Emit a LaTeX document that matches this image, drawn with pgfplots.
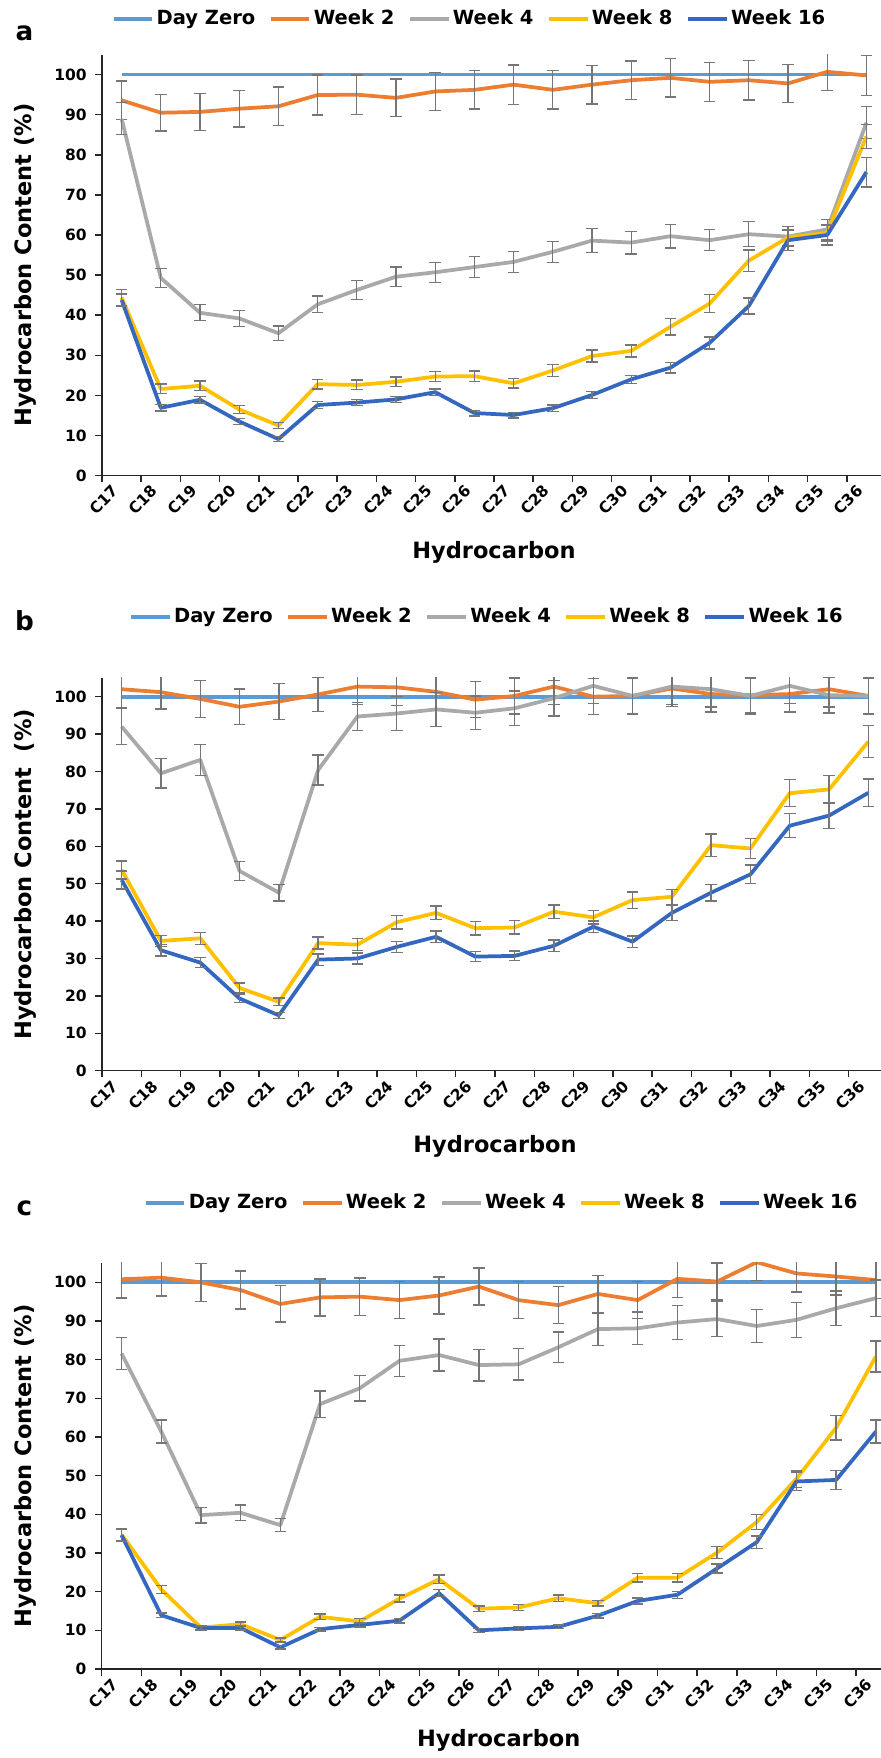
\documentclass[border=0pt]{standalone}
\usepackage{pgfplots}
\pgfplotsset{compat=1.18}
\usepackage{fontspec}
\setmainfont{DejaVu Sans}

\definecolor{dayzero}{HTML}{5B9BD5}
\definecolor{wktwo}{HTML}{ED7D31}
\definecolor{wkfour}{HTML}{A9A9A9}
\definecolor{wkeight}{HTML}{FFC000}
\definecolor{wksixteen}{HTML}{3468C0}
\definecolor{errgray}{HTML}{767676}

\newcommand{\tickfont}{\bfseries\fontsize{6.2}{7}\selectfont}
\newcommand{\legfont}{\bfseries\fontsize{7.8}{9}\selectfont}
\newcommand{\labfont}{\bfseries\fontsize{9}{10}\selectfont}

\pgfplotsset{
  panel/.style={
    scale only axis, anchor=south west,
    xmin=-0.5, xmax=19.5, ymin=0, ymax=105,
    xtick={-0.5,0.5,...,19.5}, x tick label as interval,
    xticklabels={C17,C18,C19,C20,C21,C22,C23,C24,C25,C26,C27,C28,C29,C30,C31,C32,C33,C34,C35,C36},
    ytick={0,10,...,100},
    axis x line*=bottom, axis y line*=left,
    axis line style={line width=0.6pt, black!85, -},
    every tick/.style={line width=0.6pt, black!85},
    tick align=outside, major tick length=2.6pt,
    /pgf/number format/assume math mode=true,
    ticklabel style={font=\tickfont},
    xticklabel style={rotate=45, anchor=east},
    xlabel={Hydrocarbon},
    label style={font=\labfont},
    legend columns=5,
    legend style={draw=none, fill=none, font=\legfont, anchor=center,
      inner sep=0pt, nodes={inner xsep=1pt, inner ysep=0pt},
      /tikz/every even column/.append style={column sep=4.4pt}},
    legend image code/.code={\draw[##1,line width=1.5pt] (0pt,0pt) -- (15.5pt,0pt);},
    every axis plot/.append style={line width=1.5pt, line join=round, no markers},
  },
  eb/.style={
    /pgfplots/error bars/y dir=both,
    /pgfplots/error bars/y explicit,
    /pgfplots/error bars/error bar style={line width=0.55pt, errgray},
    /pgfplots/error bars/error mark options={rotate=90, mark size=2.3pt, line width=0.55pt, errgray},
  },
}

\begin{document}
\begin{tikzpicture}

% ---------------- panel a ----------------
\node[font=\bfseries\fontsize{10.5}{12}\selectfont] at (9.8pt,690pt) {a};
\begin{axis}[panel,
  at={(40.8pt,512.96pt)}, width=313.6pt, height=168.4pt,
  ylabel={Hydrocarbon Content (\%)},
  ylabel style={at={(axis description cs:-0.098,0.5)}, anchor=center},
  xlabel style={at={(axis description cs:0.5,-0.1815)}, anchor=center},
  legend style={at={(0.469,1.0846)}},
]
\addplot[dayzero] coordinates {(0,100) (1,100) (2,100) (3,100) (4,100) (5,100) (6,100) (7,100) (8,100) (9,100) (10,100) (11,100) (12,100) (13,100) (14,100) (15,100) (16,100) (17,100) (18,100) (19,100)};
\addlegendentry{Day Zero}
\addplot[wktwo, eb] coordinates {(0,93.6) +- (0,4.8) (1,90.5) +- (0,4.6) (2,90.7) +- (0,4.6) (3,91.5) +- (0,4.6) (4,92.1) +- (0,4.8) (5,94.9) +- (0,5.0) (6,95.0) +- (0,4.9) (7,94.2) +- (0,4.7) (8,95.8) +- (0,4.7) (9,96.2) +- (0,4.8) (10,97.5) +- (0,4.9) (11,96.2) +- (0,4.8) (12,97.5) +- (0,4.8) (13,98.6) +- (0,4.8) (14,99.2) +- (0,4.8) (15,98.2) +- (0,4.9) (16,98.6) +- (0,4.9) (17,97.8) +- (0,4.8) (18,100.7) +- (0,4.7) (19,99.8) +- (0,5.0)};
\addlegendentry{Week 2}
\addplot[wkfour, eb] coordinates {(0,89.0) +- (0,4.0) (1,49.3) +- (0,2.4) (2,40.6) +- (0,2.0) (3,39.2) +- (0,2.0) (4,35.5) +- (0,1.8) (5,42.7) +- (0,2.1) (6,46.3) +- (0,2.4) (7,49.6) +- (0,2.4) (8,50.7) +- (0,2.5) (9,52.0) +- (0,2.6) (10,53.3) +- (0,2.6) (11,55.8) +- (0,2.6) (12,58.6) +- (0,3.0) (13,58.1) +- (0,2.8) (14,59.7) +- (0,2.9) (15,58.7) +- (0,2.6) (16,60.2) +- (0,3.1) (17,59.6) +- (0,2.5) (18,61.4) +- (0,2.5) (19,88.0) +- (0,4.0)};
\addlegendentry{Week 4}
\addplot[wkeight, eb] coordinates {(0,44.4) +- (0,2.0) (1,21.6) +- (0,1.2) (2,22.4) +- (0,1.2) (3,16.5) +- (0,1.0) (4,12.5) +- (0,0.8) (5,22.8) +- (0,1.2) (6,22.6) +- (0,1.2) (7,23.4) +- (0,1.2) (8,24.7) +- (0,1.2) (9,24.8) +- (0,1.3) (10,23.0) +- (0,1.2) (11,26.2) +- (0,1.5) (12,29.8) +- (0,1.5) (13,31.1) +- (0,1.5) (14,37.1) +- (0,2.0) (15,42.9) +- (0,2.2) (16,53.6) +- (0,2.7) (17,59.4) +- (0,2.0) (18,60.5) +- (0,2.0) (19,84.6) +- (0,3.0)};
\addlegendentry{Week 8}
\addplot[wksixteen, eb] coordinates {(0,43.8) +- (0,1.5) (1,16.9) +- (0,0.8) (2,18.9) +- (0,0.8) (3,13.5) +- (0,0.8) (4,9.1) +- (0,0.6) (5,17.6) +- (0,0.8) (6,18.2) +- (0,0.8) (7,19.0) +- (0,0.8) (8,20.8) +- (0,0.8) (9,15.6) +- (0,0.7) (10,15.1) +- (0,0.7) (11,16.8) +- (0,0.8) (12,20.1) +- (0,0.8) (13,24.0) +- (0,1.0) (14,26.9) +- (0,1.3) (15,33.1) +- (0,1.5) (16,42.3) +- (0,2.0) (17,58.7) +- (0,2.5) (18,60.0) +- (0,2.5) (19,75.7) +- (0,3.7)};
\addlegendentry{Week 16}
\end{axis}

% ---------------- panel b ----------------
\node[font=\bfseries\fontsize{10.5}{12}\selectfont] at (9.8pt,455pt) {b};
\begin{axis}[panel,
  at={(40.8pt,274.92pt)}, width=314.4pt, height=157.08pt,
  ylabel={Hydrocarbon Content~ (\%)},
  ylabel style={at={(axis description cs:-0.098,0.5)}, anchor=center},
  xlabel style={at={(axis description cs:0.5,-0.194)}, anchor=center},
  legend style={at={(0.490,1.1553)}},
]
\addplot[dayzero] coordinates {(0,100) (1,100) (2,100) (3,100) (4,100) (5,100) (6,100) (7,100) (8,100) (9,100) (10,100) (11,100) (12,100) (13,100) (14,100) (15,100) (16,100) (17,100) (18,100) (19,100)};
\addlegendentry{Day Zero}
\addplot[wktwo, eb] coordinates {(0,102.0) +- (0,5.0) (1,101.2) +- (0,4.5) (2,99.4) +- (0,5.0) (3,97.3) +- (0,4.8) (4,98.7) +- (0,4.8) (5,100.6) +- (0,4.5) (6,102.7) +- (0,4.8) (7,102.5) +- (0,4.8) (8,101.3) +- (0,4.8) (9,99.2) +- (0,4.8) (10,100.2) +- (0,4.8) (11,102.7) +- (0,4.8) (12,100.0) +- (0,4.8) (13,100.2) +- (0,4.8) (14,102.2) +- (0,4.8) (15,100.7) +- (0,4.8) (16,100.4) +- (0,4.8) (17,100.7) +- (0,4.8) (18,102.0) +- (0,4.8) (19,100.2) +- (0,4.8)};
\addlegendentry{Week 2}
\addplot[wkfour, eb] coordinates {(0,92.0) +- (0,4.8) (1,79.5) +- (0,3.9) (2,83.1) +- (0,4.1) (3,53.4) +- (0,2.5) (4,47.6) +- (0,2.2) (5,80.4) +- (0,4.0) (6,94.7) +- (0,3.8) (7,95.5) +- (0,4.5) (8,96.6) +- (0,4.5) (9,95.7) +- (0,4.5) (10,96.9) +- (0,4.6) (11,99.6) +- (0,4.8) (12,102.9) +- (0,4.8) (13,100.2) +- (0,4.8) (14,102.7) +- (0,4.8) (15,102.0) +- (0,4.8) (16,100.2) +- (0,4.8) (17,102.9) +- (0,4.8) (18,100.4) +- (0,4.8) (19,100.2) +- (0,4.8)};
\addlegendentry{Week 4}
\addplot[wkeight, eb] coordinates {(0,53.7) +- (0,2.4) (1,34.7) +- (0,1.5) (2,35.4) +- (0,1.6) (3,22.1) +- (0,1.3) (4,18.4) +- (0,1.0) (5,34.1) +- (0,1.6) (6,33.7) +- (0,1.6) (7,39.7) +- (0,1.8) (8,42.2) +- (0,1.8) (9,38.1) +- (0,1.8) (10,38.3) +- (0,1.8) (11,42.5) +- (0,1.8) (12,41.0) +- (0,1.8) (13,45.6) +- (0,2.2) (14,46.5) +- (0,2.0) (15,60.3) +- (0,3.0) (16,59.4) +- (0,2.7) (17,74.2) +- (0,3.6) (18,75.2) +- (0,3.7) (19,88.0) +- (0,4.3)};
\addlegendentry{Week 8}
\addplot[wksixteen, eb] coordinates {(0,51.0) +- (0,2.4) (1,32.2) +- (0,1.5) (2,28.9) +- (0,1.3) (3,19.3) +- (0,1.0) (4,14.8) +- (0,0.8) (5,29.7) +- (0,1.5) (6,30.0) +- (0,1.5) (7,33.1) +- (0,1.5) (8,35.8) +- (0,1.5) (9,30.5) +- (0,1.3) (10,30.7) +- (0,1.3) (11,33.4) +- (0,1.5) (12,38.5) +- (0,1.5) (13,34.5) +- (0,1.5) (14,42.2) +- (0,2.0) (15,47.6) +- (0,2.2) (16,52.5) +- (0,2.5) (17,65.5) +- (0,3.2) (18,68.2) +- (0,3.4) (19,74.3) +- (0,3.7)};
\addlegendentry{Week 16}
\end{axis}

% ---------------- panel c ----------------
\node[font=\bfseries\fontsize{10.5}{12}\selectfont] at (9.8pt,220pt) {c};
\begin{axis}[panel,
  at={(40.68pt,35.6pt)}, width=317.6pt, height=162.4pt,
  ylabel={Hydrocarbon Content (\%)},
  ylabel style={at={(axis description cs:-0.0966,0.5)}, anchor=center},
  xlabel style={at={(axis description cs:0.5,-0.177)}, anchor=center},
  legend style={at={(0.504,1.1478)}},
]
\addplot[dayzero] coordinates {(0,100) (1,100) (2,100) (3,100) (4,100) (5,100) (6,100) (7,100) (8,100) (9,100) (10,100) (11,100) (12,100) (13,100) (14,100) (15,100) (16,100) (17,100) (18,100) (19,100)};
\addlegendentry{Day Zero}
\addplot[wktwo, eb] coordinates {(0,100.8) +- (0,4.9) (1,101.2) +- (0,4.7) (2,100.0) +- (0,4.9) (3,98.0) +- (0,4.9) (4,94.4) +- (0,4.7) (5,96.1) +- (0,4.8) (6,96.3) +- (0,4.8) (7,95.4) +- (0,4.8) (8,96.6) +- (0,4.8) (9,98.9) +- (0,4.8) (10,95.4) +- (0,4.8) (11,94.1) +- (0,4.8) (12,97.0) +- (0,4.8) (13,95.4) +- (0,4.8) (14,100.9) +- (0,4.8) (15,100.2) +- (0,4.8) (16,105.2) +- (0,4.8) (17,102.3) +- (0,4.8) (18,101.5) +- (0,4.8) (19,100.6) +- (0,4.8)};
\addlegendentry{Week 2}
\addplot[wkfour, eb] coordinates {(0,81.6) +- (0,4.1) (1,61.4) +- (0,3.0) (2,39.8) +- (0,2.0) (3,40.4) +- (0,2.0) (4,37.2) +- (0,1.7) (5,68.5) +- (0,3.4) (6,72.6) +- (0,3.3) (7,79.7) +- (0,4.0) (8,81.2) +- (0,4.1) (9,78.6) +- (0,4.1) (10,78.8) +- (0,4.1) (11,83.2) +- (0,4.0) (12,87.9) +- (0,4.2) (13,88.1) +- (0,4.2) (14,89.6) +- (0,4.4) (15,90.5) +- (0,4.5) (16,88.7) +- (0,4.3) (17,90.3) +- (0,4.5) (18,93.3) +- (0,4.5) (19,95.9) +- (0,4.7)};
\addlegendentry{Week 4}
\addplot[wkeight, eb] coordinates {(0,34.8) +- (0,1.5) (1,20.6) +- (0,1.0) (2,10.7) +- (0,0.6) (3,11.6) +- (0,0.6) (4,7.5) +- (0,0.5) (5,13.5) +- (0,0.7) (6,12.3) +- (0,0.7) (7,18.2) +- (0,0.9) (8,23.2) +- (0,1.1) (9,15.6) +- (0,0.7) (10,15.9) +- (0,0.7) (11,18.3) +- (0,0.8) (12,17.0) +- (0,0.7) (13,23.6) +- (0,1.1) (14,23.6) +- (0,1.1) (15,30.1) +- (0,1.5) (16,38.0) +- (0,1.9) (17,49.2) +- (0,2.2) (18,62.4) +- (0,3.2) (19,80.8) +- (0,4.0)};
\addlegendentry{Week 8}
\addplot[wksixteen, eb] coordinates {(0,34.6) +- (0,1.5) (1,13.9) +- (0,0.6) (2,10.6) +- (0,0.5) (3,10.6) +- (0,0.5) (4,5.6) +- (0,0.4) (5,10.3) +- (0,0.5) (6,11.4) +- (0,0.5) (7,12.5) +- (0,0.6) (8,19.6) +- (0,0.9) (9,10.0) +- (0,0.5) (10,10.5) +- (0,0.5) (11,10.9) +- (0,0.5) (12,13.8) +- (0,0.6) (13,17.6) +- (0,0.8) (14,19.2) +- (0,0.9) (15,26.0) +- (0,1.2) (16,32.8) +- (0,1.6) (17,48.5) +- (0,2.4) (18,48.9) +- (0,2.4) (19,61.4) +- (0,3.0)};
\addlegendentry{Week 16}
\end{axis}

% fix the page to the reference's frame (881 x 1758 px at 0.4pt per px)
\pgfresetboundingbox
\path[use as bounding box] (0,0) rectangle (352.4pt,703.2pt);
\end{tikzpicture}
\end{document}
